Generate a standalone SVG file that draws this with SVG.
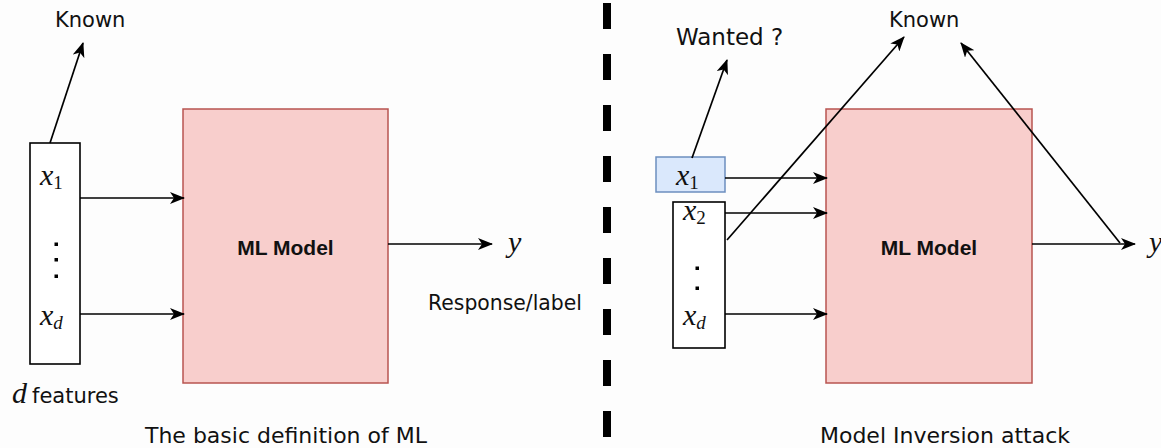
<svg xmlns="http://www.w3.org/2000/svg" width="1161" height="448" viewBox="0 0 1161 448">
  <defs>
    <marker id="arrow" viewBox="0 0 15 12" refX="14" refY="6" markerWidth="15" markerHeight="12" markerUnits="userSpaceOnUse" orient="auto">
      <path d="M0,0 L15,6 L0,12 L4,6 z" fill="#000"/>
    </marker>
    <style>
      .lbl { font-family: "DejaVu Sans", Verdana, sans-serif; font-size: 21px; fill: #111; }
      .cap { font-family: "DejaVu Sans", Verdana, sans-serif; font-size: 22px; fill: #111; text-anchor: middle; }
      .model { fill: #f8cecc; stroke: #b85450; stroke-width: 1.5; }
      .model-text { font-family: "Liberation Sans", Arial, sans-serif; font-weight: bold; font-size: 21px; fill: #111; text-anchor: middle; }
      .vec { fill: #fff; stroke: #000; stroke-width: 1.6; }
      .sel { fill: #dae8fc; stroke: #6c8ebf; stroke-width: 1.5; }
      .math { font-family: "Liberation Serif", "Times New Roman", serif; font-style: italic; font-size: 30px; fill: #111; }
      .sub { font-style: normal; font-size: 19px; }
      .subi { font-style: italic; font-size: 19px; }
      .edge { fill: none; stroke: #000; stroke-width: 1.7; marker-end: url(#arrow); }
      .dot { fill: #000; }
    </style>
  </defs>

  <rect width="1161" height="448" fill="#fdfdfd"/>

  <!-- left panel: plain model -->
  <g id="features-left">
    <rect class="vec" x="30" y="143" width="50" height="221"/>
    <text class="math" x="40" y="185">x<tspan class="sub" dy="4">1</tspan></text>
    <rect class="dot" x="54.5" y="242.5" width="3.5" height="3.5"/>
    <rect class="dot" x="54.5" y="258" width="3.5" height="3.5"/>
    <rect class="dot" x="54.5" y="274.5" width="3.5" height="3.5"/>
    <text class="math" x="40" y="325">x<tspan class="subi" dy="4">d</tspan></text>
  </g>
  <g id="known-left">
    <text class="lbl" x="55" y="27">Known</text>
  </g>
  <g id="model-left">
    <rect class="model" x="183" y="109" width="205" height="274"/>
    <text class="model-text" x="285.5" y="255">ML Model</text>
  </g>
  <g id="output-left">
    <text class="math" x="508" y="252">y</text>
    <text class="lbl" x="428" y="310" textLength="154" lengthAdjust="spacingAndGlyphs">Response/label</text>
  </g>
  <g id="feature-count">
    <text x="12" y="403"><tspan class="math">d</tspan><tspan class="lbl" dx="5">features</tspan></text>
  </g>
  <text class="cap" x="286" y="443">The basic definition of ML</text>

  <!-- divider -->
  <line x1="607" y1="3" x2="607" y2="448" stroke="#000" stroke-width="8" stroke-dasharray="26 25"/>

  <!-- right panel: model inversion -->
  <g id="wanted-feature">
    <rect class="sel" x="656" y="157" width="69" height="35"/>
    <text class="math" x="676" y="185">x<tspan class="sub" dy="4">1</tspan></text>
  </g>
  <g id="features-right">
    <rect class="vec" x="673" y="202" width="52" height="146"/>
    <text class="math" x="683" y="220">x<tspan class="sub" dy="4">2</tspan></text>
    <rect class="dot" x="695.5" y="266.5" width="3.5" height="3.5"/>
    <rect class="dot" x="695.5" y="286.5" width="3.5" height="3.5"/>
    <text class="math" x="683" y="325">x<tspan class="subi" dy="4">d</tspan></text>
  </g>
  <g id="wanted-label">
    <text class="lbl" x="676" y="45" style="font-size:23px">Wanted ?</text>
  </g>
  <g id="known-right">
    <text class="lbl" x="889" y="27">Known</text>
  </g>
  <g id="model-right">
    <rect class="model" x="826" y="109" width="206" height="274"/>
    <text class="model-text" x="929" y="255">ML Model</text>
  </g>
  <g id="output-right">
    <text class="math" x="1149" y="252">y</text>
  </g>
  <text class="cap" x="945" y="443">Model Inversion attack</text>

  <!-- connectors -->
  <g id="connectors">
    <path class="edge" d="M50,143 L83,43"/>
    <path class="edge" d="M80,198 L184,198"/>
    <path class="edge" d="M80,314 L184,314"/>
    <path class="edge" d="M388,244 L492,244"/>

    <path class="edge" d="M692,158 L727,60"/>
    <path class="edge" d="M725,178 L827,178"/>
    <path class="edge" d="M725,213 L827,213"/>
    <path class="edge" d="M725,314 L827,314"/>
    <path class="edge" d="M727,240 L904,37"/>
    <path class="edge" d="M1032,244 L1135,244"/>
    <path class="edge" d="M1120,243 L961,43"/>
  </g>
</svg>
